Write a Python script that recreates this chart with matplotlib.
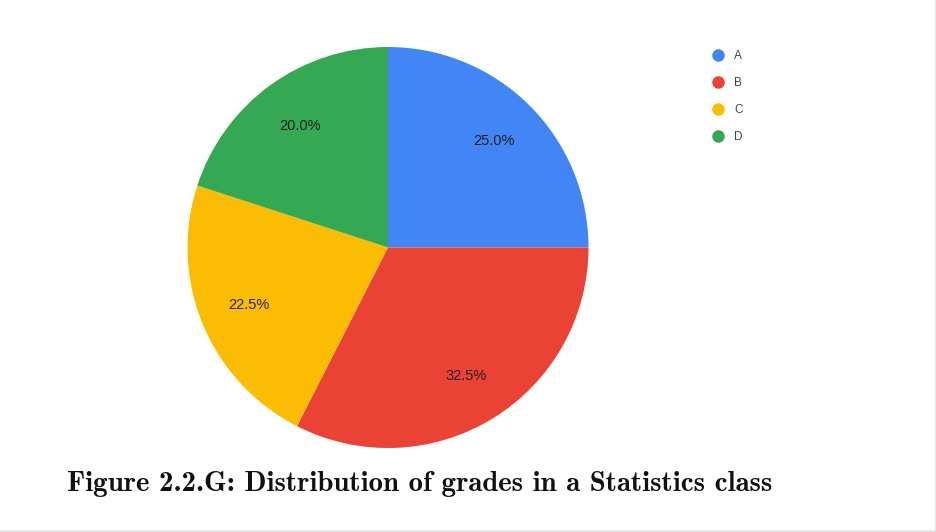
import matplotlib.pyplot as plt
from matplotlib.lines import Line2D

grades = ["A", "B", "C", "D"]
shares = [25.0, 32.5, 22.5, 20.0]
colors = ["#4285f4", "#ea4335", "#fbbc04", "#34a853"]

fig = plt.figure(figsize=(9.37, 5.32), dpi=100)
ax = fig.add_axes([187/937, 84/532, 402/937, 401/532])

wedges, texts, autotexts = ax.pie(shares, colors=colors, startangle=90, counterclock=False,
                                  autopct="%1.1f%%", pctdistance=0.75,
                                  textprops={"fontsize": 10.5, "color": "#222222", "family": "Liberation Sans"})
ax.set_xlim(-1, 1)
ax.set_ylim(-1, 1)
ax.set_aspect("equal")

handles = [Line2D([], [], marker="o", linestyle="", markersize=8, color=c) for c in colors]
leg = fig.legend(handles, grades, loc="upper left", bbox_to_anchor=(700/937, 1 - 44/532),
                 frameon=False, handletextpad=0.4, labelspacing=1.27, borderpad=0,
                 prop={"family": "Liberation Sans", "size": 8.5})
for t in leg.get_texts():
    t.set_color("#444444")

fig.text(67/937, 1 - 484/532, "Figure 2.2.G: Distribution of grades in a Statistics class",
         fontsize=20.8, family="cmb10", va="center", ha="left", color="#111111")

# thin grey frame at right and bottom edge
fig.add_artist(Line2D([0, 1], [1/532, 1/532], color="#e6e6e6", lw=1.5))
fig.add_artist(Line2D([1 - 1/937, 1 - 1/937], [0, 1], color="#e6e6e6", lw=1.5))

fig.savefig("out.png", dpi=100)
